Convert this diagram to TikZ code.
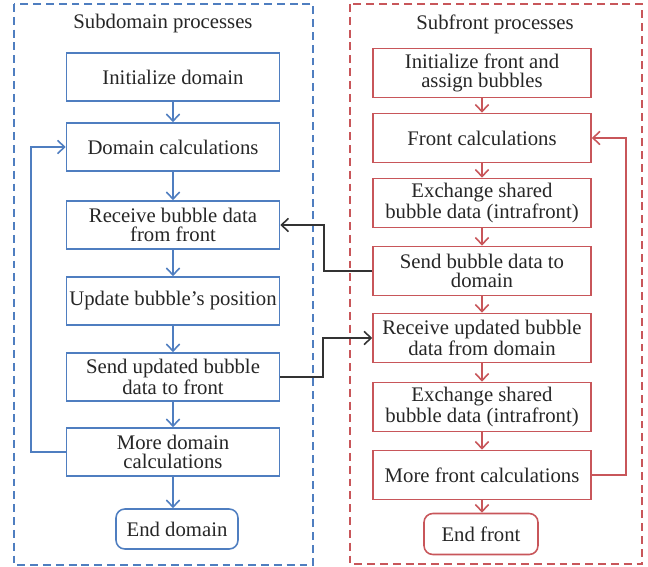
\documentclass[tikz,border=0pt]{standalone}
\usepackage{fontspec}
\setmainfont{Liberation Serif}
\usetikzlibrary{arrows.meta,positioning}
\definecolor{DomBlue}{HTML}{4F7EC0}
\definecolor{FrontRed}{HTML}{C8565A}
\definecolor{LinkGray}{HTML}{333333}

\begin{document}
\begin{tikzpicture}[x=.02cm,y=-.02cm,line width=.9pt,font=\fontsize{11.8}{10.8}\selectfont,
 >={Straight Barb[length=4pt,width=7.5pt]},
 every node/.style={inner xsep=1pt,inner ysep=2pt,align=center,text=black!85},
 frame/.style={dash pattern=on 4.5pt off 2.8pt},
 dbox/.style={draw=DomBlue,minimum width=4.26cm,minimum height=.96cm},
 fbox/.style={draw=FrontRed,minimum width=4.36cm,minimum height=.98cm},
 dstop/.style={dbox,rounded corners=5pt,minimum width=2.44cm,minimum height=.8cm},
 fstop/.style={fbox,rounded corners=5pt,minimum width=2.28cm,minimum height=.82cm},
 dflow/.style={->,draw=DomBlue},
 fflow/.style={->,draw=FrontRed},
 link/.style={->,draw=LinkGray}]
\useasboundingbox (0,0) rectangle (648,567);

% subdomain column
\draw[frame,draw=DomBlue] (14,4) rectangle (313,565);
\node (dtitle) at (163,24) {Subdomain processes};
\node[dbox] (dinit) at (173,77) {Initialize domain};
\node[dbox] (dcalc) at (173,147) {Domain calculations};
\node[dbox] (drecv) at (173,225) {Receive bubble data\\from front};
\node[dbox] (dupd)  at (173,301) {Update bubble's position};
\node[dbox] (dsend) at (173,377) {Send updated bubble\\data to front};
\node[dbox] (dmore) at (173,452) {More domain\\calculations};
\node[dstop] (dend) at (177,529) {End domain};
\foreach \a/\b in {dinit/dcalc,dcalc/drecv,drecv/dupd,dupd/dsend,dsend/dmore,dmore/dend}
  {\draw[dflow] (\a.south) -- (\a.south |- \b.north);}
\draw[dflow] (dmore.west) -- ++(-35,0) |- (dcalc.west);

% subfront column
\draw[frame,draw=FrontRed] (350,4) rectangle (642,564);
\node (ftitle) at (495,24) {Subfront processes};
\node[fbox] (finit) at (482,73) {Initialize front and\\assign bubbles};
\node[fbox] (fcalc) at (482,138) {Front calculations};
\node[fbox] (fxchA) at (482,203) {Exchange shared\\bubble data (intrafront)};
\node[fbox] (fsend) at (482,271) {Send bubble data to\\domain};
\node[fbox] (frecv) at (482,338) {Receive updated bubble\\data from domain};
\node[fbox] (fxchB) at (482,407) {Exchange shared\\bubble data (intrafront)};
\node[fbox] (fmore) at (482,475) {More front calculations};
\node[fstop] (fend) at (481,534) {End front};
\foreach \a/\b in {finit/fcalc,fcalc/fxchA,fxchA/fsend,fsend/frecv,frecv/fxchB,fxchB/fmore,fmore/fend}
  {\draw[fflow] (\a.south) -- (\a.south |- \b.north);}
\draw[fflow] (fmore.east) -- ++(34,0) |- (fcalc.east);

% exchange between the two columns
\draw[link] (fsend.west) -- ++(-48,0) |- (drecv.east);
\draw[link] (dsend.east) -- ++(43,0) |- (frecv.west);
\end{tikzpicture}
\end{document}
